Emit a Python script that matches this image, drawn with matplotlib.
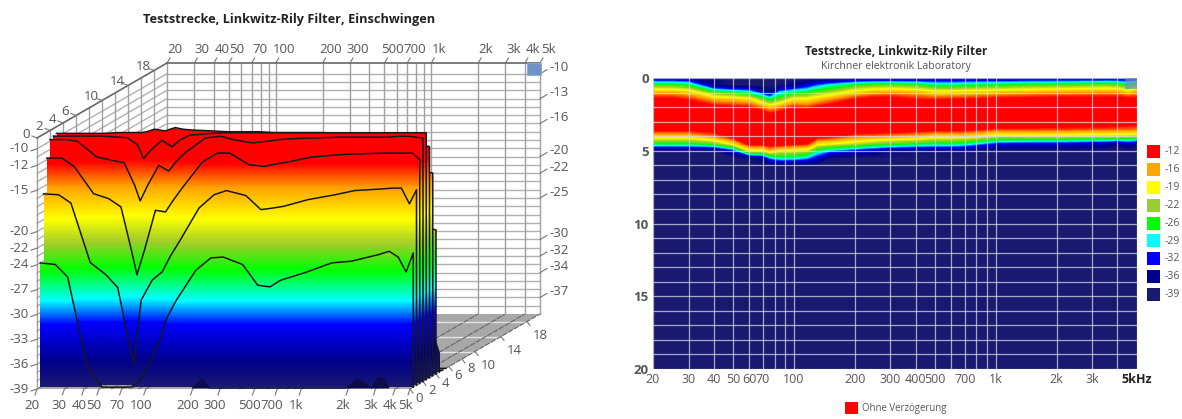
"""Teststrecke, Linkwitz-Rily Filter: waterfall and spectrogram of the onset."""

import matplotlib
matplotlib.use('Agg')
import matplotlib.pyplot as plt
import numpy as np
from matplotlib.colors import LinearSegmentedColormap, Normalize
from matplotlib.patches import Polygon, Rectangle
from matplotlib.path import Path
from matplotlib.transforms import Affine2D, IdentityTransform

plt.rcParams['font.family'] = ['Open Sans', 'DejaVu Sans']

W, H = 1182, 419

# Frequency grid (Hz) of the slices, level in dB for every time slice
freq = [20, 25, 30, 40, 50, 60, 70, 76, 85, 100, 116, 130, 150, 200, 250, 300, 400, 500,
        600, 700, 1000, 1500, 2000, 3000, 3500, 4000, 4500, 5000]
times = [0.0, 0.5, 1.0, 1.5, 2.0, 2.5, 3.0, 3.5, 4.0, 4.5, 5.0, 5.5, 6.0, 20.0]

slice_00 = [-36, -36, -36, -37, -39, -39, -39, -39, -39, -39, -39, -39, -39, -38,
            -37, -37, -37, -36, -36, -36, -36, -36, -36, -36, -36, -36, -36, -36]
slice_05 = [-24.0, -24.2, -25.7, -36.5, -39, -39, -39, -39, -38.5, -36.3, -33.6, -30.7, -28.5, -24.9,
            -23.4, -23.3, -24.2, -26.7, -26.9, -26.1, -25.2, -24.0, -23.8, -23.0, -22.6, -23.3, -25.1, -22.8]
slice_10 = [-15.9, -16.0, -17.0, -24.2, -25.6, -27.2, -33.4, -36.5, -28.7, -26.3, -25.3, -23.5, -21.6, -17.6,
            -16.0, -15.5, -16.1, -17.8, -17.6, -17.4, -16.6, -16.0, -15.5, -15.3, -15.2, -15.2, -17.1, -15.4]
slice_15 = [-11.8, -11.8, -12.8, -16.1, -16.7, -17.7, -22.9, -25.9, -22.9, -18.1, -18.3, -16.9, -15.3, -12.3,
            -11.2, -11.2, -12.6, -12.8, -12.5, -12.3, -11.7, -11.4, -11.3, -11.2, -11.2, -11.2, -11.2, -12.0]
slice_20 = [-9.8, -9.8, -10.0, -11.9, -12.3, -12.6, -15.3, -17.2, -15.3, -12.9, -13.6, -12.4, -11.3, -9.6,
            -9.4, -9.8, -10.2, -10.0, -9.8, -9.7, -9.6, -9.5, -9.5, -9.5, -9.4, -9.4, -9.5, -9.6]
slice_25 = [-9.6, -9.6, -9.6, -9.6, -9.7, -9.8, -10.7, -12.3, -11.3, -10.1, -10.9, -10.1, -9.5, -9.3,
            -9.2, -9.2, -9.2, -9.2, -9.2, -9.2, -9.2, -9.2, -9.2, -9.2, -9.2, -9.2, -9.2, -9.2]
slice_30 = [-9.5, -9.5, -9.5, -9.5, -9.4, -9.4, -9.4, -9.3, -9.0, -9.2, -8.8, -9.0, -9.1, -9.2,
            -9.3, -9.3, -9.3, -9.4, -9.4, -9.4, -9.4, -9.5, -9.7, -9.8, -10.0, -10.3, -10.9, -11.1]
slice_35 = [-11.5, -11.5, -11.5, -11.0, -10.0, -9.8, -9.8, -9.8, -9.8, -9.5, -9.5, -9.5, -9.5, -10.0,
            -10.0, -10.5, -11.0, -11.5, -11.5, -11.5, -13.5, -13.5, -13.5, -14.0, -14.0, -14.2, -14.4, -14.5]
slice_40 = [-17.5, -17.5, -17.5, -15.0, -11.5, -10.5, -10.5, -10.0, -10.0, -10.0, -10.0, -11.5, -12.0, -14.5,
            -15.0, -15.5, -16.5, -18.0, -18.0, -18.0, -20.5, -20.5, -20.5, -21.0, -21.0, -21.2, -21.4, -21.6]
slice_45 = [-25.5, -25.5, -25.5, -23.5, -18.0, -11.5, -11.5, -11.0, -10.8, -12.0, -12.5, -18.0, -19.0, -21.0,
            -23.0, -24.0, -25.0, -26.0, -26.0, -27.0, -32.0, -33.0, -33.0, -34.0, -34.5, -36.5, -34.0, -36.7]
slice_50 = [-39, -39, -39, -39, -33.0, -20.0, -20.0, -17.0, -19.5, -20.0, -21.0, -27.0, -30.0, -33.0,
            -35.0, -37.0, -38.0, -38.0, -38.0, -38.0, -39, -39, -39, -39, -39, -39, -39, -39]
slice_55 = [-39, -39, -39, -39, -39, -38.0, -36.0, -30.0, -27.5, -28.0, -30.0, -33.0, -38.0, -39,
            -39, -39, -39, -39, -39, -39, -39, -39, -39, -39, -39, -39, -39, -39]
slice_60 = [-39] * 28
slice_end = [-39] * 28

# Small bumps just above the floor, in front of the first full slice
bump_freq = [190, 220, 245, 1850, 2200, 2700, 3000, 3250, 3500]
bump_db = [-39, -37.9, -39, -39, -37.9, -39, -37.7, -37.8, -39]

# Axis labels
grid_freq = [20, 30, 40, 50, 60, 70, 80, 90, 100, 200, 300, 400, 500, 600, 700, 800, 900, 1000, 2000, 3000, 4000, 5000]
top_ticks = [20, 30, 40, 50, 70, 100, 200, 300, 500, 700, 1000, 2000, 3000, 4000, 5000]
top_labels = ['20', '30', '40', '50', '70', '100', '200', '300', '500', '700', '1k', '2k', '3k', '4k', '5k']
front_db = [-10, -12, -15, -20, -22, -24, -27, -30, -33, -36, -39]
back_db = [-10, -13, -16, -20, -22, -25, -30, -32, -34, -37]
depth_left = [0, 2, 4, 6, 10, 14, 18]
depth_right = [0, 2, 4, 6, 8, 10, 14, 18]
heat_ticks = [20, 30, 40, 50, 60, 70, 100, 200, 300, 400, 500, 700, 1000, 2000, 3000, 5000]
heat_labels = ['20', '30', '40', '50', '60', '70', '100', '200', '300', '400', '500', '700', '1k', '2k', '3k', '5kHz']
legend_db = ['-12', '-16', '-19', '-22', '-26', '-29', '-32', '-36', '-39']
legend_colors = ['#ff0000', '#ffa500', '#ffff00', '#9acd32', '#00ff00', '#00ffff', '#0000ff', '#00008b', '#191970']

cmap_db = [-39, -36, -31.5, -28.6, -25, -22, -19, -15.5, -12.5, -8]
cmap_colors = ['#191970', '#00008c', '#0000ff', '#00ffff', '#00ff00', '#a0cd28', '#ffff00', '#ffa500', '#ff0000', '#ff0000']

norm = Normalize(-39, -8)
cmap = LinearSegmentedColormap.from_list(
    'waterfall', [((d + 39) / 31, c) for d, c in zip(cmap_db, cmap_colors)], N=512)

GREY = '#555555'
DX, DY = 6.5, 3.75  # pixels per ms of depth


def fx(px):
    return px / W


def fy(py):
    return 1 - py / H


fig = plt.figure(figsize=(W / 100, H / 100), dpi=100, facecolor='white')

# ---- Left: waterfall ----
ax = fig.add_axes([fx(37), fy(389), fx(373), 251 / H])
ax.set_xscale('log')
ax.set_xlim(20, 5000)
ax.set_ylim(-39, -8.7)
ax.set_autoscale_on(False)
ax.axis('off')


def depth_tf(t):
    return ax.transData + Affine2D().translate(DX * t, DY * t)


def pixel(f, db, t=0.0):
    return depth_tf(t).transform((f, db))


def pixel_line(p0, p1, **kw):
    ax.plot([p0[0], p1[0]], [p0[1], p1[1]], transform=IdentityTransform(), clip_on=False, **kw)


def tick_label(p, text, tick, offset, ha='center'):
    pixel_line(p, (p[0] + tick[0], p[1] + tick[1]), color='#777777', lw=0.8, zorder=4)
    ax.annotate(text, xy=p, xycoords=IdentityTransform(), xytext=offset, textcoords='offset pixels',
                ha=ha, va='center', fontsize=9.5, color=GREY, annotation_clip=False)


# Floor
floor = [pixel(20, -39, 0), pixel(5000, -39, 0), pixel(5000, -39, 20), pixel(20, -39, 20)]
ax.add_patch(Polygon(floor, closed=True, transform=IdentityTransform(), facecolor='#a8a8a8',
                     edgecolor='none', clip_on=False, zorder=1))
for t in [10, 14, 18]:
    pixel_line(pixel(20, -39, t), pixel(5000, -39, t), color='#e4e4e4', lw=1, zorder=1.5)
for f in grid_freq:
    pixel_line(pixel(f, -39, 0), pixel(f, -39, 20), color='#666666', lw=0.8, ls=(0, (5, 1)), zorder=1.5)

# Back wall and left wall
for db in range(-38, -9):
    pixel_line(pixel(20, db, 20), pixel(5000, db, 20), color='#b0b0b0', lw=1, zorder=2)
    pixel_line(pixel(20, db, 0), pixel(20, db, 20), color='#b0b0b0', lw=1, zorder=2)
for f in grid_freq:
    pixel_line(pixel(f, -39, 20), pixel(f, -8.7, 20), color='#a0a0a0', lw=1, zorder=2)
for t in range(0, 20, 2):
    pixel_line(pixel(20, -39, t), pixel(20, -8.7, t), color='#a0a0a0', lw=1, zorder=2)
pixel_line(pixel(20, -8.7, 0), pixel(20, -8.7, 20), color='#666666', lw=1.2, zorder=3)
pixel_line(pixel(20, -8.7, 20), pixel(5000, -8.7, 20), color='#666666', lw=1.2, zorder=3)

# Slices, back to front, each filled with the level gradient
grad_db = np.linspace(-39, -8, 311)
slices = [(5.5, slice_55), (5.0, slice_50), (4.5, slice_45), (4.0, slice_40), (3.5, slice_35), (3.0, slice_30),
          (2.5, slice_25), (2.0, slice_20), (1.5, slice_15), (1.0, slice_10), (0.5, slice_05)]
for n, (t, db) in enumerate(slices):
    tf = depth_tf(t)
    outline = list(zip(freq, db))
    verts = [(20, -39)] + outline + [(5000, -39), (20, -39)]
    mesh = ax.pcolormesh([20, 5000], grad_db, grad_db[:-1].reshape(-1, 1), cmap=cmap, norm=norm,
                         transform=tf, zorder=10 + n, antialiased=False)
    mesh.set_clip_box(None)
    mesh.set_clip_path(Path(verts), tf)
    ax.plot(freq + [5000], db + [-39], transform=tf, color='#181818', lw=1.1, clip_on=False,
            zorder=10.5 + n, solid_joinstyle='round')

ax.fill_between(bump_freq, -39, bump_db, transform=depth_tf(0.4), color='#0c0c4a', lw=0.6,
                clip_on=False, zorder=30)

# Axis labels of the waterfall
for f, lab in zip(top_ticks, top_labels):
    p = pixel(f, -8.7, 20)
    tick_label(p, lab, (3, 5), (8, 14))
for f, lab in zip(top_ticks, top_labels):
    tick_label(pixel(f, -39, 0), lab, (-2, -6), (-5, -16))
for db in front_db:
    tick_label(pixel(20, db, 0), str(db), (-6, -2), (-8, 0), ha='right')
for db in back_db:
    tick_label(pixel(5000, db, 20), str(db), (7, 4), (9, 6), ha='left')
for t in depth_left:
    tick_label(pixel(20, -8.7, t), str(t), (-5, 2), (-11, 4))
for t in depth_right:
    off = (13, -14) if t >= 10 else (9, -9)
    tick_label(pixel(5000, -39, t), str(t), (3, -4), off)

fig.add_artist(Rectangle((fx(527), fy(75)), 14 / W, 12 / H, transform=fig.transFigure,
                         facecolor='#6f93c8', edgecolor='#8aa8d4', lw=0.6, zorder=5))
fig.text(fx(289), fy(19), 'Teststrecke, Linkwitz-Rily Filter, Einschwingen', ha='center', va='center',
         fontsize=9.2, fontweight='bold', color='#222222')

# ---- Right: spectrogram ----
ax2 = fig.add_axes([fx(653), fy(369), fx(484), 291 / H], facecolor='#191970')
levels_z = np.array([slice_00, slice_05, slice_10, slice_15, slice_20, slice_25, slice_30, slice_35,
                     slice_40, slice_45, slice_50, slice_55, slice_60, slice_end])
ax2.contourf(freq, times, levels_z, levels=np.linspace(-39, -8, 125), cmap=cmap, norm=norm, extend='both')
ax2.set_xscale('log')
ax2.set_xlim(20, 5000)
ax2.set_ylim(20, 0)
ax2.minorticks_off()
ax2.set_xticks(grid_freq)
ax2.set_xticklabels([heat_labels[heat_ticks.index(f)] if f in heat_ticks else '' for f in grid_freq],
                    fontsize=9, color=GREY)
ax2.set_yticks(range(21))
ax2.set_yticklabels([str(v) if v % 5 == 0 else '' for v in range(21)], fontsize=9.5,
                    fontweight='bold', color=GREY)
ax2.get_xticklabels()[-1].set_fontweight('bold')
ax2.get_xticklabels()[-1].set_color('#222222')
ax2.tick_params(length=0, pad=3)
ax2.grid(True, color='#d8d8e8', lw=0.9, alpha=0.75)
ax2.set_axisbelow(False)
for sp in ax2.spines.values():
    sp.set_visible(False)

fig.add_artist(Rectangle((fx(1125), fy(89)), 12 / W, 11 / H, transform=fig.transFigure,
                         facecolor='#6f93c8', alpha=0.7, edgecolor='none', zorder=5))

fig.text(fx(896), fy(51), 'Teststrecke, Linkwitz-Rily Filter', ha='center', va='center',
         fontsize=8.5, fontweight='bold', color='#222222')
fig.text(fx(896), fy(67), 'Kirchner elektronik Laboratory', ha='center', va='center', fontsize=7.6, color=GREY)

# Colour legend and series legend
for i, (lab, col) in enumerate(zip(legend_db, legend_colors)):
    yc = 151.5 + i * 17.9
    fig.add_artist(Rectangle((fx(1147), fy(yc + 6.5)), 13 / W, 13 / H, transform=fig.transFigure,
                             facecolor=col, edgecolor='none'))
    fig.text(fx(1165), fy(yc), lab, ha='left', va='center', fontsize=7.5, color=GREY)

fig.add_artist(Rectangle((fx(845), fy(414)), 13 / W, 12 / H, transform=fig.transFigure,
                         facecolor='#ff0000', edgecolor='none'))
fig.text(fx(862), fy(408), 'Ohne Verzögerung', ha='left', va='center', fontsize=6.9, color=GREY)

fig.savefig('out.png', dpi=100, facecolor='white')
